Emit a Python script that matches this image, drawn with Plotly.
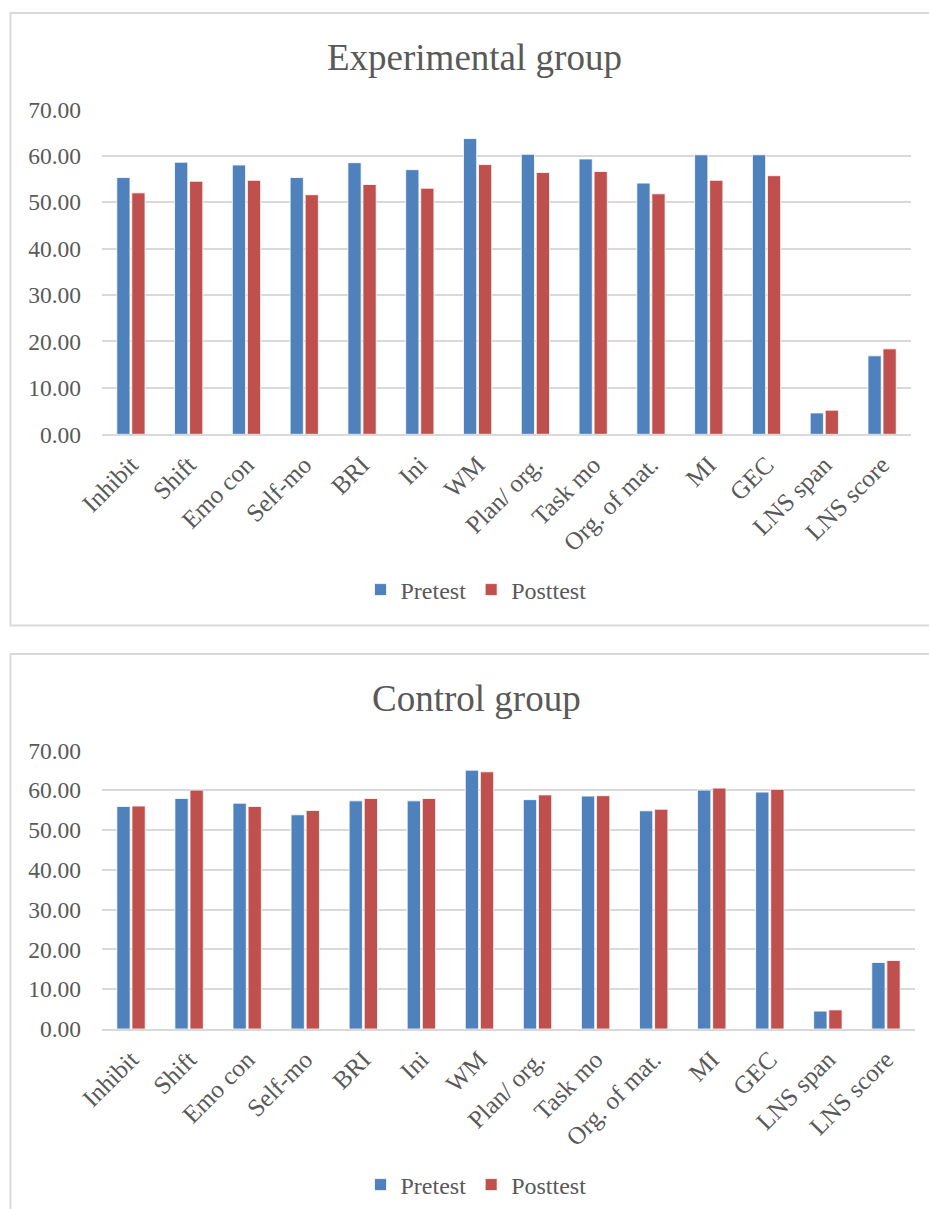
import plotly.graph_objects as go

categories = ["Inhibit", "Shift", "Emo con", "Self-mo", "BRI", "Ini", "WM",
              "Plan/ org.", "Task mo", "Org. of mat.", "MI", "GEC", "LNS span", "LNS score"]

exp_pretest = [55.3, 58.6, 58.0, 55.3, 58.5, 57.0, 63.7, 60.3, 59.3, 54.1, 60.2, 60.2, 4.6, 16.9]
exp_posttest = [52.0, 54.5, 54.7, 51.6, 53.8, 53.0, 58.1, 56.4, 56.6, 51.8, 54.7, 55.7, 5.2, 18.4]

ctl_pretest = [55.9, 57.9, 56.7, 53.8, 57.3, 57.3, 65.0, 57.6, 58.5, 54.8, 60.0, 59.5, 4.5, 16.7]
ctl_posttest = [56.0, 60.0, 55.9, 54.9, 57.9, 57.9, 64.6, 58.8, 58.6, 55.2, 60.5, 60.2, 4.8, 17.2]

tick_vals = [0, 10, 20, 30, 40, 50, 60, 70]
tick_text = ["0.00", "10.00", "20.00", "30.00", "40.00", "50.00", "60.00", "70.00"]

BLUE = "#4F81BD"
RED = "#C0504D"
GRID = "#D9D9D9"
TXT = "#595959"
FONT = "Liberation Serif, Times New Roman, serif"

W, H = 929, 1209

fig = go.Figure()
fig.add_trace(go.Bar(x=categories, y=exp_pretest, name="Pretest", marker=dict(color=BLUE, line=dict(color="white", width=0.8)),
                     xaxis="x", yaxis="y", legend="legend", offsetgroup="a"))
fig.add_trace(go.Bar(x=categories, y=exp_posttest, name="Posttest", marker=dict(color=RED, line=dict(color="white", width=0.8)),
                     xaxis="x", yaxis="y", legend="legend", offsetgroup="b"))
fig.add_trace(go.Bar(x=categories, y=ctl_pretest, name="Pretest", marker=dict(color=BLUE, line=dict(color="white", width=0.8)),
                     xaxis="x2", yaxis="y2", legend="legend2", offsetgroup="a"))
fig.add_trace(go.Bar(x=categories, y=ctl_posttest, name="Posttest", marker=dict(color=RED, line=dict(color="white", width=0.8)),
                     xaxis="x2", yaxis="y2", legend="legend2", offsetgroup="b"))

def py(px):
    return 1 - px / H

axis_common = dict(showgrid=False, showline=True, linecolor=GRID, linewidth=2, ticks="",
                   tickangle=-45, automargin=False, ticklabelstandoff=4,
                   tickfont=dict(family=FONT, size=25, color=TXT))
yaxis_common = dict(range=[0, 70], tickvals=tick_vals, ticktext=tick_text, showgrid=True, gridcolor=GRID,
                    gridwidth=2, zeroline=False, showline=False, ticks="", ticklabelstandoff=20,
                    automargin=False, tickfont=dict(family=FONT, size=23.5, color=TXT))

fig.update_layout(
    width=W, height=H,
    margin=dict(l=0, r=0, t=0, b=0, pad=0, autoexpand=False),
    paper_bgcolor="white", plot_bgcolor="white",
    barmode="group", bargap=0.48, bargroupgap=0.12,
    font=dict(family=FONT, color=TXT),
    xaxis=dict(domain=[102 / W, 911 / W], anchor="y", **axis_common),
    yaxis=dict(domain=[py(434.3), py(109.3)], anchor="x", **yaxis_common),
    xaxis2=dict(domain=[102 / W, 915 / W], anchor="y2", **axis_common),
    yaxis2=dict(domain=[py(1029), py(750.3)], anchor="x2", **yaxis_common),
    legend=dict(orientation="h", x=476 / W, xanchor="center", y=py(590), yanchor="middle",
                font=dict(family=FONT, size=24, color=TXT), itemwidth=30, bgcolor="rgba(0,0,0,0)"),
    legend2=dict(orientation="h", x=476 / W, xanchor="center", y=py(1185), yanchor="middle",
                 font=dict(family=FONT, size=24, color=TXT), itemwidth=30, bgcolor="rgba(0,0,0,0)"),
    annotations=[
        dict(text="Experimental group", x=475 / W, y=py(57), xref="paper", yref="paper",
             xanchor="center", yanchor="middle", showarrow=False, font=dict(family=FONT, size=37, color=TXT)),
        dict(text="Control group", x=477 / W, y=py(698), xref="paper", yref="paper",
             xanchor="center", yanchor="middle", showarrow=False, font=dict(family=FONT, size=37, color=TXT)),
    ],
    shapes=[
        dict(type="rect", xref="paper", yref="paper", x0=10.5 / W, x1=1.02, y0=py(625.5), y1=py(13),
             line=dict(color=GRID, width=2), fillcolor="rgba(0,0,0,0)", layer="below"),
        dict(type="rect", xref="paper", yref="paper", x0=10.5 / W, x1=1.02, y0=-0.02, y1=py(654),
             line=dict(color=GRID, width=2), fillcolor="rgba(0,0,0,0)", layer="below"),
    ],
)

fig.write_html("out.html")
